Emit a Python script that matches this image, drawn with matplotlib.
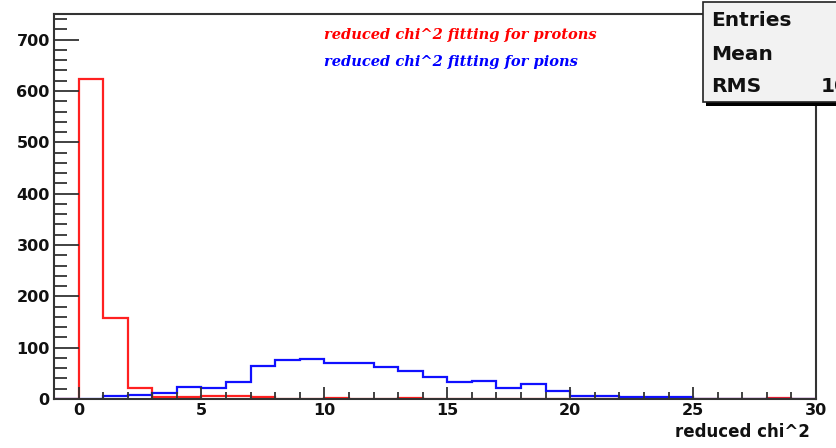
import numpy as np
import matplotlib
matplotlib.use("Agg")
import matplotlib.pyplot as plt
from matplotlib.patches import Rectangle
from matplotlib.ticker import MultipleLocator

# histogram bins: one unit wide, from -1 to 30
bin_edges = np.arange(-1, 31)

# reduced chi^2 counts per bin
proton_counts = [0, 624, 157, 22, 3, 3, 5, 5, 4, 0, 0, 1, 0, 0, 1, 0,
                 0, 0, 0, 0, 0, 0, 0, 0, 0, 0, 0, 0, 0, 1, 0]
pion_counts = [0, 0, 5, 8, 11, 24, 22, 34, 64, 76, 78, 70, 70, 62, 55, 42,
               33, 35, 22, 29, 16, 5, 5, 3, 3, 3, 0, 0, 0, 0, 0]

x_ticks = [0, 5, 10, 15, 20, 25, 30]
y_ticks = [0, 100, 200, 300, 400, 500, 600, 700]

stat_names = ["Entries", "Mean", "RMS"]
stat_values = ["1000", "7.62", "10.16"]

W, H = 837, 448
fig = plt.figure(figsize=(W / 100, H / 100), dpi=100)
fig.patch.set_facecolor("white")
ax = fig.add_axes([54 / W, 1 - 399 / H, (816 - 54) / W, (399 - 14) / H])

ax.stairs(proton_counts, bin_edges, color="#ff2020", lw=1.6, baseline=0)
ax.stairs(pion_counts, bin_edges, color="#1010ff", lw=1.6, baseline=0)

ax.set_xlim(-1, 30)
ax.set_ylim(0, 750)

frame_col = "#333333"
for side in ["left", "top", "right", "bottom"]:
    ax.spines[side].set_color(frame_col)
    ax.spines[side].set_linewidth(1.5)

ax.set_xticks(x_ticks)
ax.set_yticks(y_ticks)
ax.xaxis.set_minor_locator(MultipleLocator(1))
ax.yaxis.set_minor_locator(MultipleLocator(20))
ax.tick_params(axis="y", which="major", direction="in", length=18, width=1.3, color=frame_col, pad=3)
ax.tick_params(axis="y", which="minor", direction="in", length=9, width=1.3, color=frame_col)
ax.tick_params(axis="x", which="major", direction="in", length=9, width=1.3, color=frame_col, pad=3)
ax.tick_params(axis="x", which="minor", direction="in", length=5, width=1.3, color=frame_col)

for lab in ax.get_xticklabels() + ax.get_yticklabels():
    lab.set_fontfamily("DejaVu Sans")
    lab.set_fontweight("bold")
    lab.set_fontsize(11.5)
    lab.set_color("#111111")

fig.text(810 / W, 1 - 432 / H, "reduced chi^2", ha="right", va="center",
         family="DejaVu Sans", weight="bold", fontsize=12, color="#111111")

ax.text(10, 709, "reduced chi^2 fitting for protons", color="red",
        family="DejaVu Serif", style="italic", weight="bold", fontsize=10.5, va="center")
ax.text(10, 657, "reduced chi^2 fitting for pions", color="blue",
        family="DejaVu Serif", style="italic", weight="bold", fontsize=10.5, va="center")

# stats box in top right corner (partly off the canvas)
bx0, by0, bx1, by1 = 703, 2, 900, 102
shadow = Rectangle(((bx0 + 3) / W, 1 - (by1 + 4) / H), (bx1 - bx0) / W, (by1 - by0) / H,
                   transform=fig.transFigure, facecolor="black", edgecolor="none")
box = Rectangle((bx0 / W, 1 - by1 / H), (bx1 - bx0) / W, (by1 - by0) / H,
                transform=fig.transFigure, facecolor="#f2f2f2", edgecolor="#222222", lw=1.2)
fig.add_artist(shadow)
fig.add_artist(box)

for i, (name, val) in enumerate(zip(stat_names, stat_values)):
    yy = 1 - (21 + i * 33) / H
    fig.text(711 / W, yy, name, ha="left", va="center", family="DejaVu Sans",
             weight="bold", fontsize=14.5, color="#111111")
    fig.text([845, 836, 821][i] / W, yy, val, ha="left", va="center", family="DejaVu Sans",
             weight="bold", fontsize=14.5, color="#111111")

fig.savefig("out.png", dpi=100)
